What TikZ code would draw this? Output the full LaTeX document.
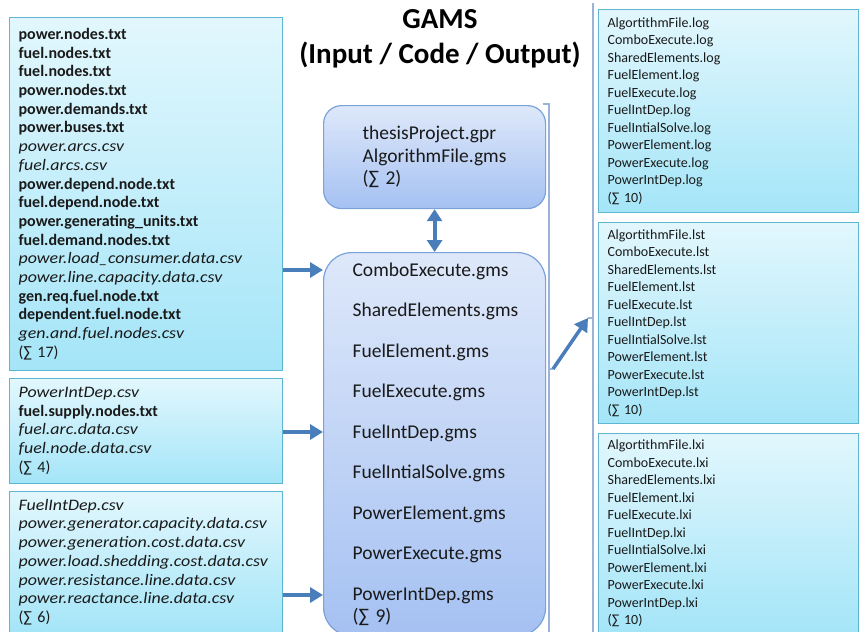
\documentclass[tikz,border=0pt]{standalone}
\usepackage{fontspec}
\setmainfont{Carlito}
\newfontfamily\inputit[FakeStretch=1.12]{Carlito}
\usetikzlibrary{arrows.meta,positioning,calc}
\definecolor{GamsArrow}{HTML}{4A7EBB}
\definecolor{FileTop}{HTML}{E2F7FD}
\definecolor{FileBot}{HTML}{A4E5F8}
\definecolor{FileEdge}{HTML}{5DB7D1}
\definecolor{CodeTop}{HTML}{DEE8FA}
\definecolor{CodeBot}{HTML}{A5C1F2}
\definecolor{CodeEdge}{HTML}{7BA3D9}
\definecolor{BrkLine}{HTML}{9BB3D6}
\definecolor{TextDark}{HTML}{1A1A1A}

% italic input file name
\newcommand{\itf}[1]{{\inputit\itshape #1}}
% list of output files for one extension
\newcommand{\outfiles}[1]{AlgortithmFile.#1\\ComboExecute.#1\\SharedElements.#1\\
  FuelElement.#1\\FuelExecute.#1\\FuelIntDep.#1\\FuelIntialSolve.#1\\
  PowerElement.#1\\PowerExecute.#1\\PowerIntDep.#1\\(∑ 10)}

\begin{document}
\begin{tikzpicture}[x=1pt, y=-1pt,
  filebox/.style={draw=FileEdge, line width=1.2pt, top color=FileTop, bottom color=FileBot,
    anchor=north west, align=left, text=TextDark, inner xsep=9pt, inner ysep=0pt},
  inbox/.style={filebox, font=\fontsize{16}{18.7}\selectfont, minimum width=273pt, text width=255pt},
  outbox/.style={filebox, font=\fontsize{14}{17.5}\selectfont, minimum width=260pt, text width=242pt},
  codebox/.style={draw=CodeEdge, line width=1.2pt, top color=CodeTop, bottom color=CodeBot,
    anchor=north west, align=left, minimum width=222pt, inner ysep=0pt, text=TextDark,
    font=\fontsize{19.5}{22.5}\selectfont},
  fat/.style={GamsArrow, line width=4.5pt, -{Triangle[length=13pt,width=15pt]}},
  brk/.style={BrkLine, line width=1.2pt}]
\useasboundingbox (0,0) rectangle (860,632);
\clip (0,0) rectangle (860,632);

% Title
\node[font=\fontsize{29}{35}\selectfont\bfseries, align=center] (title) at (440,39)
  {GAMS\\(Input / Code / Output)};

% Input files
\node[inbox, minimum height=353pt] (in1) at (9,17) {%
  \textbf{power.nodes.txt}\\
  \textbf{fuel.nodes.txt}\\
  \textbf{fuel.nodes.txt}\\
  \textbf{power.nodes.txt}\\
  \textbf{power.demands.txt}\\
  \textbf{power.buses.txt}\\
  \itf{power.arcs.csv}\\
  \itf{fuel.arcs.csv}\\
  \textbf{power.depend.node.txt}\\
  \textbf{fuel.depend.node.txt}\\
  \textbf{power.generating\_units.txt}\\
  \textbf{fuel.demand.nodes.txt}\\
  \itf{power.load\_consumer.data.csv}\\
  \itf{power.line.capacity.data.csv}\\
  \textbf{gen.req.fuel.node.txt}\\
  \textbf{dependent.fuel.node.txt}\\
  \itf{gen.and.fuel.nodes.csv}\\
  (∑ 17)};
\node[inbox, minimum height=105pt] (in2) at (9,378) {%
  \itf{PowerIntDep.csv}\\
  \textbf{fuel.supply.nodes.txt}\\
  \itf{fuel.arc.data.csv}\\
  \itf{fuel.node.data.csv}\\
  (∑ 4)};
\node[inbox, minimum height=141pt] (in3) at (9,491) {%
  \itf{FuelIntDep.csv}\\
  \itf{power.generator.capacity.data.csv}\\
  \itf{power.generation.cost.data.csv}\\
  \itf{power.load.shedding.cost.data.csv}\\
  \itf{power.resistance.line.data.csv}\\
  \itf{power.reactance.line.data.csv}\\
  (∑ 6)};

% Code files
\node[codebox, rounded corners=18pt, minimum height=103pt, text width=144pt, inner xsep=39pt]
  (gpr) at (323,105) {thesisProject.gpr\\AlgorithmFile.gms\\(∑ 2)};
\node[codebox, rounded corners=28pt, minimum height=383pt, text width=164pt, inner xsep=29pt]
  (code) at (323,252) {%
  ComboExecute.gms\\[18pt]
  SharedElements.gms\\[18pt]
  FuelElement.gms\\[18pt]
  FuelExecute.gms\\[18pt]
  FuelIntDep.gms\\[18pt]
  FuelIntialSolve.gms\\[18pt]
  PowerElement.gms\\[18pt]
  PowerExecute.gms\\[18pt]
  PowerIntDep.gms\\
  (∑ 9)};

% Output files
\node[outbox, minimum height=203pt] (log) at (598,9) {\outfiles{log}};
\node[outbox, minimum height=201pt] (lst) at (598,222) {\outfiles{lst}};
\node[outbox, minimum height=200pt] (lxi) at (598,433) {\outfiles{lxi}};

% Brackets
\coordinate (codeout) at (553,369);
\coordinate (outin) at (588,318);
\draw[brk] (543,104) -- (549,104) -- (549,632);
\draw[brk] (549,369) -- (codeout);
\draw[brk] (593,3) -- (593,632);
\draw[brk] (outin) -- (593,318);

% Arrows
\draw[fat] (in1.east |- 0,270) -- (code.west |- 0,270);
\draw[fat] (in2.east |- 0,432) -- (code.west |- 0,432);
\draw[fat] (in3.east |- 0,595) -- (code.west |- 0,595);
\draw[fat, line width=4pt, {Triangle[length=12pt,width=15pt]}-{Triangle[length=12pt,width=15pt]}]
  (gpr.south) -- (code.north);
\draw[fat, line width=3.5pt] (codeout) -- (outin);
\end{tikzpicture}
\end{document}
